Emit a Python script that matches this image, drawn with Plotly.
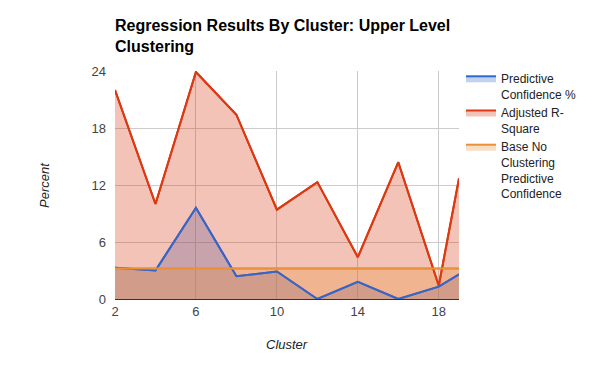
import plotly.graph_objects as go

clusters = [2, 4, 6, 8, 10, 12, 14, 16, 18, 19]
predictive_conf = [3.3, 3.0, 9.6, 2.4, 2.9, 0.0, 1.8, 0.0, 1.3, 2.6]
adj_r_square = [22.0, 10.0, 23.9, 19.4, 9.4, 12.3, 4.4, 14.4, 1.4, 12.7]
base_conf = [3.2] * len(clusters)

series_names = ["Predictive<br>Confidence %", "Adjusted R-<br>Square",
                "Base No<br>Clustering<br>Predictive<br>Confidence"]
series_values = [predictive_conf, adj_r_square, base_conf]
line_colors = ["#3366cc", "#dc3912", "#e8913a"]
fill_colors = ["rgba(51,102,204,0.3)", "rgba(220,57,18,0.3)", "rgba(232,145,58,0.3)"]

y_ticks = [0, 6, 12, 18, 24]
x_ticks = [2, 6, 10, 14, 18]

FONT = "Arial, 'Liberation Sans', sans-serif"

# page body has an 8px margin -> draw in a 592x363 figure, shifted by 8px
OFF = 8
W, H = 600 - OFF, 371 - OFF
L, T = 115 - OFF, 71 - OFF
PW, PH = 344, 228
R, B = W - L - PW, H - T - PH


def to_paper(sx, sy):
    fx, fy = sx - OFF, sy - OFF
    return (fx - L) / PW, 1 - (fy - T) / PH


fig = go.Figure()
for name, vals, lc, fc in zip(series_names, series_values, line_colors, fill_colors):
    fig.add_trace(go.Scatter(x=clusters, y=vals, name=name, mode="lines",
                             line=dict(color=lc, width=2), fill="tozeroy",
                             fillcolor=fc, hoverinfo="skip"))
for name, vals, lc in zip(series_names, series_values, line_colors):
    fig.add_trace(go.Scatter(x=clusters, y=vals, name=name, mode="lines",
                             line=dict(color=lc, width=2), showlegend=False))

cx, cy = to_paper(287, 344)
px_, py_ = to_paper(44, 185)
lx, ly = to_paper(461, 64)

fig.update_layout(
    width=W, height=H,
    margin=dict(l=L, r=R, t=T, b=B, autoexpand=False),
    paper_bgcolor="white", plot_bgcolor="white",
    font=dict(family=FONT, size=12, color="#222"),
    title=dict(text="<b>Regression Results By Cluster: Upper Level<br>Clustering</b>",
               x=(115 - OFF) / W, xanchor="left", xref="container",
               y=1 - 23 / H, yanchor="top", yref="container",
               pad=dict(l=0, r=0, t=0, b=0),
               font=dict(family=FONT, size=16, color="#000")),
    legend=dict(x=lx, xanchor="left", y=ly, yanchor="top", valign="top",
                font=dict(family=FONT, size=12, color="#222"),
                tracegroupgap=5, bgcolor="rgba(0,0,0,0)"),
    showlegend=True,
    annotations=[
        dict(text="<i>Cluster</i>", x=cx, y=cy, xref="paper", yref="paper",
             showarrow=False, xanchor="center", yanchor="middle",
             font=dict(family=FONT, size=13, color="#222")),
        dict(text="<i>Percent</i>", x=px_, y=py_, xref="paper", yref="paper",
             showarrow=False, xanchor="center", yanchor="middle", textangle=-90,
             font=dict(family=FONT, size=13, color="#222")),
    ],
)

fig.update_xaxes(range=[2, 19], tickvals=x_ticks, showgrid=True, gridcolor="#cccccc",
                 zeroline=False, showline=False, ticks="", ticklabelstandoff=3,
                 tickfont=dict(family=FONT, size=13, color="#444"))
fig.update_yaxes(range=[0, 24], tickvals=y_ticks, showgrid=True, gridcolor="#cccccc",
                 zeroline=True, zerolinecolor="#333333", zerolinewidth=1,
                 showline=False, ticks="", ticklabelstandoff=8,
                 tickfont=dict(family=FONT, size=13, color="#444"))

fig.write_html("out.html")
